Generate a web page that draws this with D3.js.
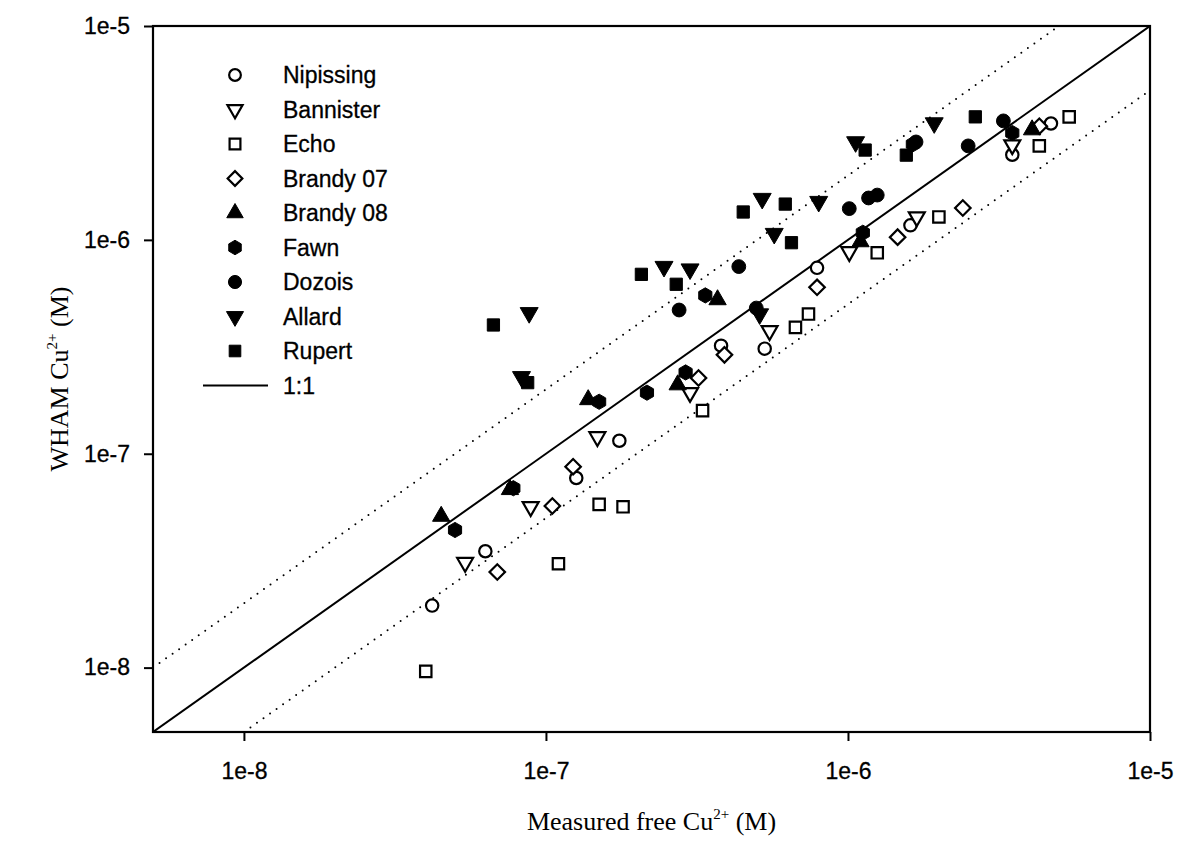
<!DOCTYPE html>
<html>
<head>
<meta charset="utf-8">
<script src="https://cdn.jsdelivr.net/npm/d3@7"></script>
<style>
  body { margin: 0; background: #fff; }
  .tick text { font-family: "Liberation Sans", Arial, sans-serif; }
</style>
</head>
<body>
<svg id="chart" width="1180" height="848"></svg>
<script>
// measured free Cu (x) vs WHAM Cu (y), in M
var nipissingX = [4.2e-8, 6.3e-8, 1.26e-7, 1.75e-7, 3.8e-7, 5.3e-7, 7.9e-7, 1.61e-6, 3.5e-6, 4.7e-6];
var nipissingY = [1.95e-8, 3.5e-8, 7.7e-8, 1.15e-7, 3.2e-7, 3.1e-7, 7.4e-7, 1.17e-6, 2.5e-6, 3.5e-6];
var bannisterX = [5.4e-8, 8.9e-8, 1.48e-7, 3.0e-7, 5.5e-7, 1.01e-6, 1.69e-6, 3.5e-6];
var bannisterY = [3.1e-8, 5.65e-8, 1.2e-7, 1.93e-7, 3.76e-7, 8.8e-7, 1.28e-6, 2.78e-6];
var echoX = [4.0e-8, 1.1e-7, 1.5e-7, 1.8e-7, 3.3e-7, 6.7e-7, 7.4e-7, 1.25e-6, 2.0e-6, 4.3e-6, 5.4e-6];
var echoY = [9.6e-9, 3.06e-8, 5.8e-8, 5.65e-8, 1.59e-7, 3.9e-7, 4.5e-7, 8.7e-7, 1.28e-6, 2.75e-6, 3.76e-6];
var brandy07X = [6.9e-8, 1.05e-7, 1.23e-7, 3.2e-7, 3.9e-7, 7.9e-7, 1.46e-6, 2.4e-6, 4.3e-6];
var brandy07Y = [2.8e-8, 5.7e-8, 8.7e-8, 2.26e-7, 2.9e-7, 6.0e-7, 1.03e-6, 1.41e-6, 3.4e-6];
var brandy08X = [4.5e-8, 7.6e-8, 1.38e-7, 2.73e-7, 3.7e-7, 1.1e-6, 4.07e-6];
var brandy08Y = [5.1e-8, 6.8e-8, 1.79e-7, 2.1e-7, 5.25e-7, 9.8e-7, 3.27e-6];
var fawnX = [5.0e-8, 7.8e-8, 1.5e-7, 2.16e-7, 2.9e-7, 3.37e-7, 1.12e-6, 1.64e-6, 3.5e-6];
var fawnY = [4.4e-8, 6.9e-8, 1.75e-7, 1.93e-7, 2.4e-7, 5.5e-7, 1.08e-6, 2.8e-6, 3.16e-6];
var dozoisX = [2.76e-7, 4.35e-7, 4.97e-7, 1.01e-6, 1.17e-6, 1.25e-6, 1.68e-6, 2.5e-6, 3.27e-6];
var dozoisY = [4.7e-7, 7.5e-7, 4.8e-7, 1.4e-6, 1.57e-6, 1.62e-6, 2.87e-6, 2.75e-6, 3.6e-6];
var allardX = [8.3e-8, 8.8e-8, 2.46e-7, 3.0e-7, 5.1e-7, 5.2e-7, 5.7e-7, 8.0e-7, 1.06e-6, 1.93e-6];
var allardY = [2.29e-7, 4.56e-7, 7.5e-7, 7.3e-7, 4.5e-7, 1.56e-6, 1.07e-6, 1.51e-6, 2.87e-6, 3.52e-6];
var rupertX = [6.7e-8, 8.7e-8, 2.07e-7, 2.7e-7, 4.5e-7, 6.2e-7, 6.5e-7, 1.14e-6, 1.56e-6, 2.64e-6];
var rupertY = [4.0e-7, 2.15e-7, 6.9e-7, 6.2e-7, 1.35e-6, 1.47e-6, 9.7e-7, 2.63e-6, 2.49e-6, 3.76e-6];

var seriesNames = ["Nipissing", "Bannister", "Echo", "Brandy 07", "Brandy 08", "Fawn", "Dozois", "Allard", "Rupert"];
var xTicks = [1e-8, 1e-7, 1e-6, 1e-5];
var yTicks = [1e-8, 1e-7, 1e-6, 1e-5];
var domainMin = 5e-9, domainMax = 1e-5;

// hexagon symbol for Fawn
var symbolHexagon = {
    draw: function (context, size) {
        var r = Math.sqrt(size / (1.5 * Math.sqrt(3)));
        for (var i = 0; i < 6; i++) {
            var a = Math.PI / 6 + i * Math.PI / 3;
            if (i == 0) context.moveTo(r * Math.cos(a), r * Math.sin(a));
            else context.lineTo(r * Math.cos(a), r * Math.sin(a));
        }
        context.closePath();
    }
};

var series = [
    { name: seriesNames[0], xs: nipissingX, ys: nipissingY, type: d3.symbolCircle, size: 120, fill: false, rot: 0 },
    { name: seriesNames[1], xs: bannisterX, ys: bannisterY, type: d3.symbolTriangle, size: 110, fill: false, rot: 180 },
    { name: seriesNames[2], xs: echoX, ys: echoY, type: d3.symbolSquare, size: 130, fill: false, rot: 0 },
    { name: seriesNames[3], xs: brandy07X, ys: brandy07Y, type: d3.symbolSquare, size: 120, fill: false, rot: 45 },
    { name: seriesNames[4], xs: brandy08X, ys: brandy08Y, type: d3.symbolTriangle, size: 130, fill: true, rot: 0 },
    { name: seriesNames[5], xs: fawnX, ys: fawnY, type: symbolHexagon, size: 150, fill: true, rot: 0 },
    { name: seriesNames[6], xs: dozoisX, ys: dozoisY, type: d3.symbolCircle, size: 150, fill: true, rot: 0 },
    { name: seriesNames[7], xs: allardX, ys: allardY, type: d3.symbolTriangle, size: 140, fill: true, rot: 180 },
    { name: seriesNames[8], xs: rupertX, ys: rupertY, type: d3.symbolSquare, size: 150, fill: true, rot: 0 }
];

var svg = d3.select("#chart");
var plotL = 153, plotR = 1150, plotT = 26, plotB = 732;

var x = d3.scaleLog().domain([domainMin, domainMax]).range([plotL, plotR]);
var y = d3.scaleLog().domain([domainMin, domainMax]).range([plotB, plotT]);

var fmt = function (d) { return "1e" + Math.round(Math.log10(d)); };

// axes
var xAxis = d3.axisBottom(x).tickValues(xTicks).tickFormat(fmt).tickSize(9).tickPadding(22);
var yAxis = d3.axisLeft(y).tickValues(yTicks).tickFormat(fmt).tickSize(9).tickPadding(14);

var gx = svg.append("g").attr("transform", "translate(0," + plotB + ")").call(xAxis);
var gy = svg.append("g").attr("transform", "translate(" + plotL + ",0)").call(yAxis);
[gx, gy].forEach(function (g) {
    g.select(".domain").remove();
    g.selectAll(".tick line").attr("stroke", "#000").attr("stroke-width", 2);
    g.selectAll(".tick text").style("font-size", "23px").attr("fill", "#000")
        .attr("stroke", "#000").attr("stroke-width", 0.3);
});

// frame
svg.append("rect")
    .attr("x", plotL).attr("y", plotT)
    .attr("width", plotR - plotL).attr("height", plotB - plotT)
    .attr("fill", "none").attr("stroke", "#000").attr("stroke-width", 2.2);

svg.append("clipPath").attr("id", "plotclip")
    .append("rect").attr("x", plotL).attr("y", plotT).attr("width", plotR - plotL).attr("height", plotB - plotT);

var plot = svg.append("g").attr("clip-path", "url(#plotclip)");

// 1:1 and factor-of-2 lines
var line = d3.line().x(function (d) { return x(d[0]); }).y(function (d) { return y(d[1]); });
plot.append("path")
    .attr("d", line([[domainMin, domainMin], [domainMax, domainMax]]))
    .attr("stroke", "#000").attr("stroke-width", 2).attr("fill", "none");
plot.append("path")
    .attr("d", line([[domainMin, domainMin * 2], [domainMax / 2, domainMax]]))
    .attr("stroke", "#000").attr("stroke-width", 2).attr("fill", "none")
    .attr("stroke-dasharray", "0,8").attr("stroke-linecap", "round");
plot.append("path")
    .attr("d", line([[domainMin * 2, domainMin], [domainMax, domainMax / 2]]))
    .attr("stroke", "#000").attr("stroke-width", 2).attr("fill", "none")
    .attr("stroke-dasharray", "0,8").attr("stroke-linecap", "round");

// points
series.forEach(function (s) {
    var pts = s.xs.map(function (v, i) { return [v, s.ys[i]]; });
    plot.selectAll(null)
        .data(pts)
        .join("path")
        .attr("d", d3.symbol().type(s.type).size(s.size))
        .attr("transform", function (d) {
            return "translate(" + x(d[0]) + "," + y(d[1]) + ") rotate(" + s.rot + ")";
        })
        .attr("fill", s.fill ? "#000" : "#fff")
        .attr("stroke", "#000")
        .attr("stroke-width", s.fill ? 1 : 2.2);
});

// legend
var legend = svg.append("g");
var legY0 = 75, legStep = 34.5;
series.forEach(function (s, i) {
    var ly = legY0 + i * legStep;
    legend.append("path")
        .attr("d", d3.symbol().type(s.type).size(s.size * 0.9))
        .attr("transform", "translate(235," + ly + ") rotate(" + s.rot + ")")
        .attr("fill", s.fill ? "#000" : "#fff")
        .attr("stroke", "#000")
        .attr("stroke-width", s.fill ? 1 : 2.2);
    legend.append("text")
        .attr("x", 283).attr("y", ly)
        .attr("dy", "0.36em")
        .style("font-family", "Liberation Sans, Arial, sans-serif")
        .style("font-size", "23px")
        .attr("stroke", "#000").attr("stroke-width", 0.3)
        .text(s.name);
});
var lineY = legY0 + 9 * legStep;
legend.append("line")
    .attr("x1", 203).attr("x2", 268).attr("y1", lineY).attr("y2", lineY)
    .attr("stroke", "#000").attr("stroke-width", 2);
legend.append("text")
    .attr("x", 283).attr("y", lineY).attr("dy", "0.36em")
    .style("font-family", "Liberation Sans, Arial, sans-serif")
    .style("font-size", "23px")
    .attr("stroke", "#000").attr("stroke-width", 0.3)
    .text("1:1");

// axis titles
var xt = svg.append("text")
    .attr("x", (plotL + plotR) / 2).attr("y", 830)
    .attr("text-anchor", "middle")
    .style("font-family", "Liberation Serif, Times New Roman, serif")
    .style("font-size", "26px");
xt.append("tspan").text("Measured free Cu");
xt.append("tspan").attr("dy", "-11").style("font-size", "15px").text("2+");
xt.append("tspan").attr("dy", "11").text(" (M)");

var yt = svg.append("text")
    .attr("transform", "translate(68," + ((plotT + plotB) / 2) + ") rotate(-90)")
    .attr("text-anchor", "middle")
    .style("font-family", "Liberation Serif, Times New Roman, serif")
    .style("font-size", "26px");
yt.append("tspan").text("WHAM Cu");
yt.append("tspan").attr("dy", "-11").style("font-size", "15px").text("2+");
yt.append("tspan").attr("dy", "11").text(" (M)");
</script>
</body>
</html>
